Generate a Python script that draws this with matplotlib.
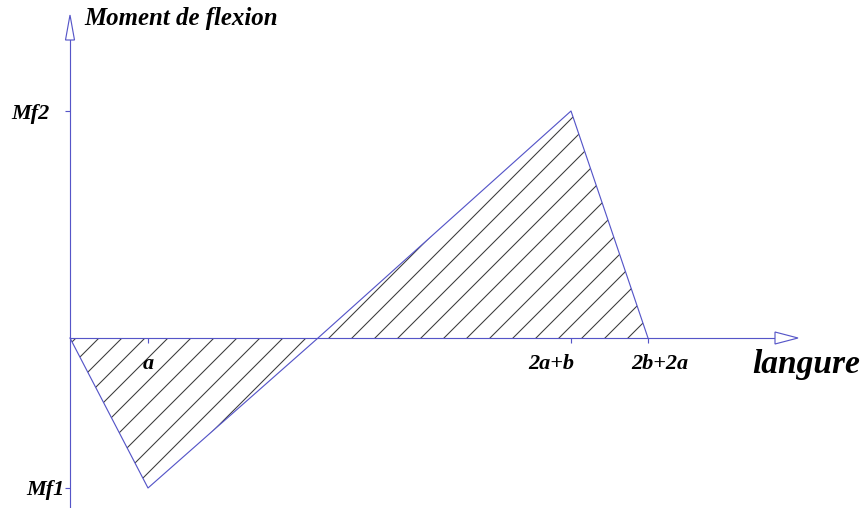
import numpy as np
import matplotlib
matplotlib.use("Agg")
import matplotlib.pyplot as plt
from matplotlib.transforms import ScaledTranslation

# bending moment diagram (positions/values in drawing units, not to scale)
x_pts = [0, 78, 248, 501, 578]
moment = [0, -150, 0, 227, 0]
xtick_pos = [78, 501, 578]
xtick_lab = ['a', '2a+b', '2b+2a']
ytick_pos = [-150, 227]
ytick_lab = ['Mf1', 'Mf2']

DPI = 138
blue = '#5555c8'
plt.rcParams['hatch.linewidth'] = 0.55
plt.rcParams['font.family'] = 'Liberation Serif'

fig = plt.figure(figsize=(865 / DPI, 508 / DPI), dpi=DPI)
ax = fig.add_axes([0, 0, 1, 1])
ax.set_xlim(-70, 795)
ax.set_ylim(-170, 338)

ax.fill_between(x_pts, moment, 0, hatch='//', facecolor='none',
                edgecolor='#3a3a3a', linewidth=0)
ax.plot(x_pts, moment, color=blue, lw=0.6)

# axes through the origin
for side in ['top', 'right']:
    ax.spines[side].set_visible(False)
ax.spines['left'].set_position(('data', 0))
ax.spines['bottom'].set_position(('data', 0))
ax.spines['left'].set_bounds(-170, 298)
ax.spines['bottom'].set_bounds(0, 705)
for side in ['left', 'bottom']:
    ax.spines[side].set_color(blue)
    ax.spines[side].set_linewidth(0.6)

# open arrow heads
ax.fill([705, 705, 728], [-6, 6, 0], facecolor='white', edgecolor=blue, lw=0.6, zorder=3)
ax.fill([-4.5, 4.5, 0], [298, 298, 323], facecolor='white', edgecolor=blue, lw=0.6, zorder=3)

lab_font = dict(fontsize=11.6, fontweight='bold', fontstyle='italic')
ax.set_xticks(xtick_pos, xtick_lab, **lab_font)
ax.set_yticks(ytick_pos, ytick_lab, **lab_font)
ax.tick_params(axis='both', direction='out', length=2.6, width=0.6,
               color=blue, pad=4)

for lab, dx, dy in zip(ax.get_xticklabels(), [0, -20, 12], [-3, -3, -3]):
    lab.set_transform(lab.get_transform() + ScaledTranslation(dx / DPI, dy / DPI, fig.dpi_scale_trans))
for lab, dx, dy in zip(ax.get_yticklabels(), [7, -8], [0, 0]):
    lab.set_transform(lab.get_transform() + ScaledTranslation(dx / DPI, dy / DPI, fig.dpi_scale_trans))

ax.text(14, 320, 'Moment de flexion', ha='left', va='center',
        fontsize=13, fontweight='bold', fontstyle='italic')
ax.text(682, -26, 'langure', ha='left', va='center',
        fontsize=17.5, fontweight='bold', fontstyle='italic')

fig.savefig('out.png', dpi=DPI, facecolor='white')
